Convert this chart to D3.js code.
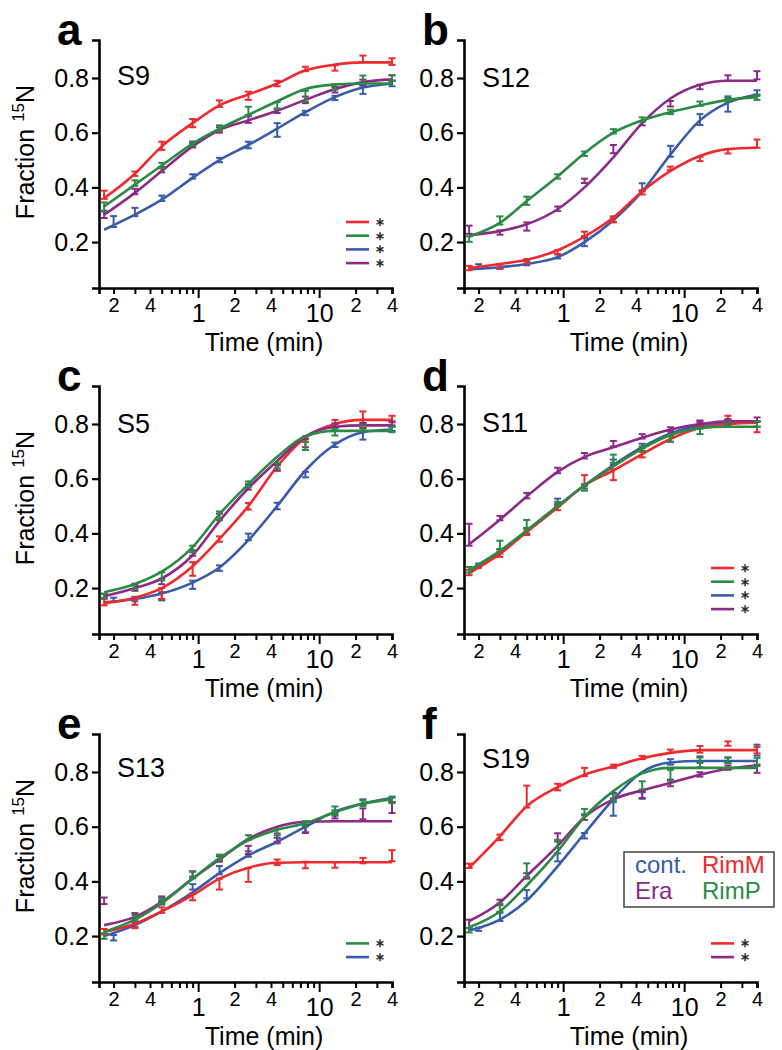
<!DOCTYPE html>
<html><head><meta charset="utf-8">
<script src="https://cdn.jsdelivr.net/npm/d3@7"></script>
<style>
body{margin:0;background:#fff}
svg{display:block}
text{font-family:Arial,"Liberation Sans",Helvetica,sans-serif}
</style>
</head><body>
<svg id="chart" width="782" height="1050"></svg>
<script>
// ---------- data ----------
const times = [0.167, 0.3, 0.5, 0.9, 1.5, 2.6, 4.5, 7.7, 13.5, 23, 40];
const timesCont = [0.2, 0.3, 0.5, 0.9, 1.5, 2.6, 4.5, 7.7, 13.5, 23, 40];
const seriesNames = ["cont.", "RimM", "Era", "RimP"];
const seriesColors = ["#3a5bab", "#ee2a2e", "#8c2b86", "#2b8a44"];
const panelLetters = ["a", "b", "c", "d", "e", "f"];
const panelProteins = ["S9", "S12", "S5", "S11", "S13", "S19"];
const yTicks = [0.2, 0.4, 0.6, 0.8];
const xTicks = [0.2,0.3,0.4,0.5,0.6,0.7,0.8,0.9,1,2,3,4,5,6,7,8,9,10,20,30,40];
const xMajorTicks = [1, 10];
const xTickLabels = {0.2:"2", 0.4:"4", 1:"1", 2:"2", 4:"4", 10:"10", 20:"2", 40:"4"};
// legend entries with asterisks (series index per row, null = empty row)
const starLegends = [[1,3,0,2], [], [], [1,3,0,2], [null,null,3,0], [null,null,1,2]];

// S9 (a)
const S9_cont    = [0.275,0.31,0.36,0.44,0.50,0.555,0.61,0.672,0.727,0.757,0.78];
const S9_contErr = [0.02,0.015,0.01,0.008,0.008,0.012,0.025,0.008,0.008,0.015,0.01];
const S9_contFit = [0.245,0.30,0.355,0.435,0.50,0.555,0.615,0.675,0.73,0.765,0.78];
const S9_rimM    = [0.373,0.45,0.552,0.635,0.706,0.735,0.78,0.833,0.837,0.87,0.86];
const S9_rimMErr = [0.015,0.008,0.015,0.015,0.012,0.015,0.01,0.008,0.01,0.012,0.012];
const S9_rimMFit = [0.36,0.45,0.55,0.635,0.70,0.74,0.78,0.828,0.849,0.857,0.857];
const S9_era     = [0.30,0.385,0.465,0.554,0.61,0.648,0.68,0.72,0.757,0.784,0.80];
const S9_eraErr  = [0.012,0.01,0.01,0.008,0.01,0.012,0.008,0.012,0.01,0.01,0.01];
const S9_eraFit  = [0.30,0.38,0.46,0.55,0.61,0.645,0.68,0.72,0.76,0.785,0.795];
const S9_rimP    = [0.33,0.416,0.48,0.56,0.617,0.68,0.70,0.733,0.767,0.794,0.80];
const S9_rimPErr = [0.015,0.01,0.01,0.008,0.01,0.015,0.012,0.02,0.01,0.015,0.01];
const S9_rimPFit = [0.33,0.41,0.48,0.56,0.615,0.665,0.715,0.76,0.776,0.78,0.78];

// S12 (b)
const S12_cont    = [0.111,0.11,0.123,0.148,0.20,0.284,0.40,0.532,0.648,0.702,0.745];
const S12_contErr = [0.008,0.008,0.008,0.008,0.015,0.01,0.015,0.02,0.02,0.025,0.01];
const S12_contFit = [0.10,0.108,0.12,0.145,0.20,0.28,0.385,0.52,0.645,0.71,0.74];
const S12_rimM    = [0.105,0.111,0.13,0.163,0.23,0.282,0.382,0.47,0.504,0.532,0.56];
const S12_rimMErr = [0.008,0.008,0.008,0.008,0.008,0.01,0.008,0.006,0.008,0.008,0.015];
const S12_rimMFit = [0.105,0.12,0.135,0.17,0.22,0.29,0.385,0.46,0.515,0.54,0.545];
const S12_era     = [0.245,0.235,0.257,0.322,0.424,0.54,0.635,0.706,0.767,0.80,0.81];
const S12_eraErr  = [0.015,0.008,0.015,0.008,0.008,0.015,0.008,0.01,0.008,0.01,0.015];
const S12_eraFit  = [0.225,0.24,0.265,0.32,0.40,0.51,0.635,0.725,0.775,0.79,0.79];
const S12_rimP    = [0.211,0.279,0.351,0.44,0.523,0.605,0.648,0.676,0.706,0.723,0.73];
const S12_rimPErr = [0.01,0.015,0.015,0.008,0.008,0.008,0.008,0.008,0.008,0.01,0.01];
const S12_rimPFit = [0.22,0.27,0.35,0.44,0.525,0.60,0.645,0.675,0.70,0.72,0.73];

// S5 (c)
const S5_cont    = [0.157,0.16,0.17,0.212,0.273,0.387,0.50,0.615,0.724,0.773,0.785];
const S5_contErr = [0.008,0.008,0.015,0.015,0.01,0.012,0.012,0.01,0.008,0.03,0.01];
const S5_contFit = [0.148,0.16,0.18,0.22,0.275,0.375,0.50,0.63,0.725,0.77,0.78];
const S5_rimM    = [0.149,0.151,0.18,0.27,0.379,0.499,0.639,0.745,0.807,0.816,0.818];
const S5_rimMErr = [0.012,0.012,0.02,0.025,0.01,0.012,0.01,0.01,0.008,0.03,0.012];
const S5_rimMFit = [0.145,0.165,0.20,0.28,0.38,0.50,0.645,0.75,0.80,0.815,0.815];
const S5_era     = [0.17,0.20,0.224,0.328,0.46,0.57,0.64,0.73,0.794,0.794,0.80];
const S5_eraErr  = [0.008,0.01,0.01,0.01,0.012,0.01,0.01,0.015,0.008,0.01,0.01];
const S5_eraFit  = [0.17,0.20,0.235,0.32,0.445,0.565,0.665,0.755,0.79,0.795,0.795];
const S5_rimP    = [0.172,0.206,0.243,0.343,0.465,0.58,0.648,0.72,0.77,0.785,0.78];
const S5_rimPErr = [0.008,0.01,0.015,0.012,0.015,0.01,0.01,0.015,0.012,0.01,0.01];
const S5_rimPFit = [0.185,0.215,0.26,0.35,0.47,0.58,0.68,0.755,0.775,0.775,0.775];

// S11 (d)
const S11_cont    = [0.282,0.334,0.41,0.517,0.572,0.66,0.72,0.767,0.804,0.804,0.80];
const S11_contErr = [0.008,0.008,0.01,0.01,0.008,0.01,0.008,0.008,0.008,0.008,0.01];
const S11_contFit = [0.265,0.335,0.41,0.50,0.575,0.65,0.715,0.765,0.795,0.805,0.805];
const S11_rimM    = [0.257,0.324,0.404,0.495,0.593,0.615,0.688,0.745,0.797,0.822,0.79];
const S11_rimMErr = [0.01,0.01,0.01,0.01,0.02,0.02,0.01,0.01,0.008,0.008,0.02];
const S11_rimMFit = [0.255,0.325,0.405,0.495,0.575,0.63,0.69,0.745,0.785,0.80,0.805];
const S11_era     = [0.395,0.456,0.538,0.63,0.684,0.728,0.755,0.78,0.804,0.81,0.816];
const S11_eraErr  = [0.04,0.008,0.01,0.01,0.01,0.01,0.008,0.008,0.008,0.008,0.008];
const S11_eraFit  = [0.36,0.45,0.535,0.625,0.68,0.715,0.75,0.78,0.80,0.81,0.81];
const S11_rimP    = [0.267,0.358,0.434,0.507,0.566,0.673,0.71,0.745,0.773,0.798,0.80];
const S11_rimPErr = [0.01,0.015,0.015,0.008,0.01,0.015,0.008,0.01,0.01,0.008,0.01];
const S11_rimPFit = [0.265,0.335,0.41,0.50,0.575,0.645,0.71,0.76,0.785,0.79,0.79];

// S13 (e)
const S13_cont    = [0.194,0.243,0.323,0.38,0.441,0.50,0.549,0.592,0.65,0.69,0.70];
const S13_contErr = [0.01,0.01,0.008,0.01,0.015,0.01,0.01,0.012,0.01,0.01,0.01];
const S13_contFit = [0.20,0.24,0.29,0.36,0.43,0.495,0.545,0.60,0.655,0.685,0.705];
const S13_rimM    = [0.216,0.239,0.295,0.343,0.39,0.423,0.47,0.46,0.46,0.476,0.494];
const S13_rimMErr = [0.01,0.01,0.01,0.012,0.02,0.025,0.01,0.012,0.01,0.01,0.02];
const S13_rimMFit = [0.215,0.245,0.29,0.35,0.41,0.45,0.468,0.47,0.47,0.47,0.47];
const S13_era     = [0.329,0.274,0.335,0.427,0.482,0.515,0.56,0.592,0.64,0.647,0.67];
const S13_eraErr  = [0.012,0.01,0.01,0.01,0.01,0.015,0.015,0.015,0.01,0.02,0.02];
const S13_eraFit  = [0.24,0.27,0.325,0.41,0.48,0.555,0.60,0.618,0.62,0.62,0.62];
const S13_rimP    = [0.20,0.267,0.329,0.423,0.488,0.561,0.58,0.61,0.659,0.686,0.696];
const S13_rimPErr = [0.01,0.01,0.01,0.012,0.01,0.008,0.012,0.01,0.015,0.01,0.01];
const S13_rimPFit = [0.215,0.26,0.32,0.41,0.485,0.55,0.589,0.613,0.653,0.684,0.70];

// S19 (f)
const S19_cont    = [0.225,0.27,0.353,0.488,0.567,0.665,0.714,0.837,0.837,0.843,0.88];
const S19_contErr = [0.006,0.015,0.015,0.015,0.01,0.025,0.012,0.01,0.02,0.01,0.02];
const S19_contFit = [0.22,0.26,0.33,0.455,0.575,0.70,0.80,0.835,0.84,0.84,0.84];
const S19_rimM    = [0.457,0.561,0.71,0.745,0.80,0.821,0.853,0.876,0.883,0.904,0.88];
const S19_rimMErr = [0.008,0.01,0.04,0.012,0.015,0.006,0.006,0.006,0.012,0.008,0.012];
const S19_rimMFit = [0.45,0.565,0.675,0.745,0.79,0.82,0.85,0.87,0.88,0.88,0.88];
const S19_era     = [0.245,0.323,0.42,0.561,0.635,0.714,0.717,0.76,0.791,0.816,0.812];
const S19_eraErr  = [0.015,0.01,0.01,0.015,0.01,0.01,0.012,0.012,0.008,0.008,0.015];
const S19_eraFit  = [0.255,0.323,0.42,0.53,0.635,0.70,0.733,0.76,0.79,0.812,0.824];
const S19_rimP    = [0.221,0.304,0.441,0.537,0.653,0.708,0.751,0.788,0.843,0.843,0.837];
const S19_rimPErr = [0.008,0.015,0.025,0.015,0.012,0.012,0.015,0.02,0.01,0.01,0.015];
const S19_rimPFit = [0.232,0.29,0.385,0.51,0.635,0.73,0.795,0.815,0.815,0.815,0.815];

// ---------- build ----------
const panels = [
  [[S9_cont,S9_contErr,S9_contFit],[S9_rimM,S9_rimMErr,S9_rimMFit],[S9_era,S9_eraErr,S9_eraFit],[S9_rimP,S9_rimPErr,S9_rimPFit]],
  [[S12_cont,S12_contErr,S12_contFit],[S12_rimM,S12_rimMErr,S12_rimMFit],[S12_era,S12_eraErr,S12_eraFit],[S12_rimP,S12_rimPErr,S12_rimPFit]],
  [[S5_cont,S5_contErr,S5_contFit],[S5_rimM,S5_rimMErr,S5_rimMFit],[S5_era,S5_eraErr,S5_eraFit],[S5_rimP,S5_rimPErr,S5_rimPFit]],
  [[S11_cont,S11_contErr,S11_contFit],[S11_rimM,S11_rimMErr,S11_rimMFit],[S11_era,S11_eraErr,S11_eraFit],[S11_rimP,S11_rimPErr,S11_rimPFit]],
  [[S13_cont,S13_contErr,S13_contFit],[S13_rimM,S13_rimMErr,S13_rimMFit],[S13_era,S13_eraErr,S13_eraFit],[S13_rimP,S13_rimPErr,S13_rimPFit]],
  [[S19_cont,S19_contErr,S19_contFit],[S19_rimM,S19_rimMErr,S19_rimMFit],[S19_era,S19_eraErr,S19_eraFit],[S19_rimP,S19_rimPErr,S19_rimPFit]]
];

const svg = d3.select("#chart");
const colX = [99, 464];
const rowTop = [40, 386, 734];
const W = 293, H = 248;
const nameDy = [45, 47, 47, 46, 43, 34];
const drawOrder = [0, 1, 2, 3];

const x = d3.scaleLog().domain([0.1515, 40]).range([0, W]);
const y = d3.scaleLinear().domain([0.032, 0.939]).range([H, 0]);

panels.forEach((series, p) => {
  const col = p % 2, row = Math.floor(p / 2);
  const g = svg.append("g").attr("transform", `translate(${colX[col]},${rowTop[row]})`);

  // axes
  const xa = g.append("g").attr("transform", `translate(0,${H})`)
    .call(d3.axisBottom(x).tickValues(xTicks).tickSizeOuter(0).tickSize(6)
      .tickFormat(d => xTickLabels[d] || ""));
  xa.select(".domain").attr("stroke", "#000").attr("stroke-width", 2.6);
  xa.selectAll(".tick line").attr("stroke", "#000").attr("stroke-width", 2)
    .attr("y2", d => xMajorTicks.includes(d) ? 10 : 6);
  xa.selectAll(".tick text")
    .attr("font-family", "Arial, 'Liberation Sans', sans-serif")
    .attr("font-size", d => xMajorTicks.includes(d) ? 25 : 20)
    .attr("dy", null)
    .attr("y", d => xMajorTicks.includes(d) ? 34 : 24)
    .attr("fill", "#000");

  const ya = g.append("g")
    .call(d3.axisLeft(y).tickValues(yTicks).tickSizeOuter(0).tickSize(7).tickPadding(3)
      .tickFormat(d3.format(".1f")));
  ya.select(".domain").attr("stroke", "#000").attr("stroke-width", 2.6);
  ya.selectAll(".tick line").attr("stroke", "#000").attr("stroke-width", 2.2);
  ya.selectAll(".tick text")
    .attr("font-family", "Arial, 'Liberation Sans', sans-serif")
    .attr("font-size", 25).attr("fill", "#000");

  // x title
  g.append("text").attr("x", 165).attr("y", H + 63)
    .attr("text-anchor", "middle").attr("font-size", 25).attr("fill", "#000").text("Time (min)");

  // y title
  if (col === 0) {
    const t = g.append("text")
      .attr("transform", `translate(${34 - colX[0]},${H / 2 - 12}) rotate(-90)`)
      .attr("text-anchor", "middle").attr("font-size", 25).attr("fill", "#000");
    t.append("tspan").text("Fraction ");
    t.append("tspan").attr("font-size", 17).attr("dy", -10).text("15");
    t.append("tspan").attr("dy", 10).text("N");
  }

  // panel letter
  g.append("text").attr("x", -42).attr("y", 5).attr("fill", "#000")
    .attr("font-size", 44).attr("font-weight", "bold").text(panelLetters[p]);
  // protein name
  g.append("text").attr("x", 18).attr("y", nameDy[p]).attr("fill", "#000")
    .attr("font-size", 27).text(panelProteins[p]);

  // series
  const line = d3.line().curve(d3.curveMonotoneX)
    .x((d, i) => x(times[i])).y(d => y(d));
  drawOrder.forEach(s => {
    const [vals, errs, fit] = series[s];
    const c = seriesColors[s];
    const tt = s === 0 ? timesCont : times;
    g.append("path").datum(fit).attr("d", line)
      .attr("fill", "none").attr("stroke", c).attr("stroke-width", 2.6);
    const eb = g.append("g").attr("stroke", c).attr("stroke-width", 2);
    vals.forEach((v, i) => {
      const xx = x(tt[i]), y1 = y(v - errs[i]), y2 = y(v + errs[i]);
      eb.append("line").attr("x1", xx).attr("x2", xx).attr("y1", y1).attr("y2", y2);
      eb.append("line").attr("x1", xx - 3.5).attr("x2", xx + 3.5).attr("y1", y1).attr("y2", y1);
      eb.append("line").attr("x1", xx - 3.5).attr("x2", xx + 3.5).attr("y1", y2).attr("y2", y2);
    });
  });

  // star legends
  starLegends[p].forEach((s, r) => {
    if (s === null) return;
    const ly = 182 + r * 13.7;
    g.append("line").attr("x1", 247).attr("x2", 270).attr("y1", ly).attr("y2", ly)
      .attr("stroke", seriesColors[s]).attr("stroke-width", 2.6);
    g.append("text").attr("x", 281).attr("y", ly + 4).attr("text-anchor", "middle")
      .attr("font-family", "'DejaVu Sans', sans-serif").attr("font-size", 11.5)
      .attr("fill", "#222").attr("stroke", "#222").attr("stroke-width", 0.4).text("∗");
  });

  // name legend in f
  if (p === 5) {
    const lg = g.append("g");
    lg.append("rect").attr("x", 160).attr("y", 118).attr("width", 150).attr("height", 55)
      .attr("fill", "#fff").attr("stroke", "#444").attr("stroke-width", 1.5);
    const pos = [[171, 139], [238, 139], [171, 165], [238, 165]];
    [0, 1, 2, 3].forEach(s => {
      lg.append("text").attr("x", pos[s][0]).attr("y", pos[s][1])
        .attr("font-size", 24).attr("fill", seriesColors[s]).text(seriesNames[s]);
    });
  }
});
</script>
</body></html>
